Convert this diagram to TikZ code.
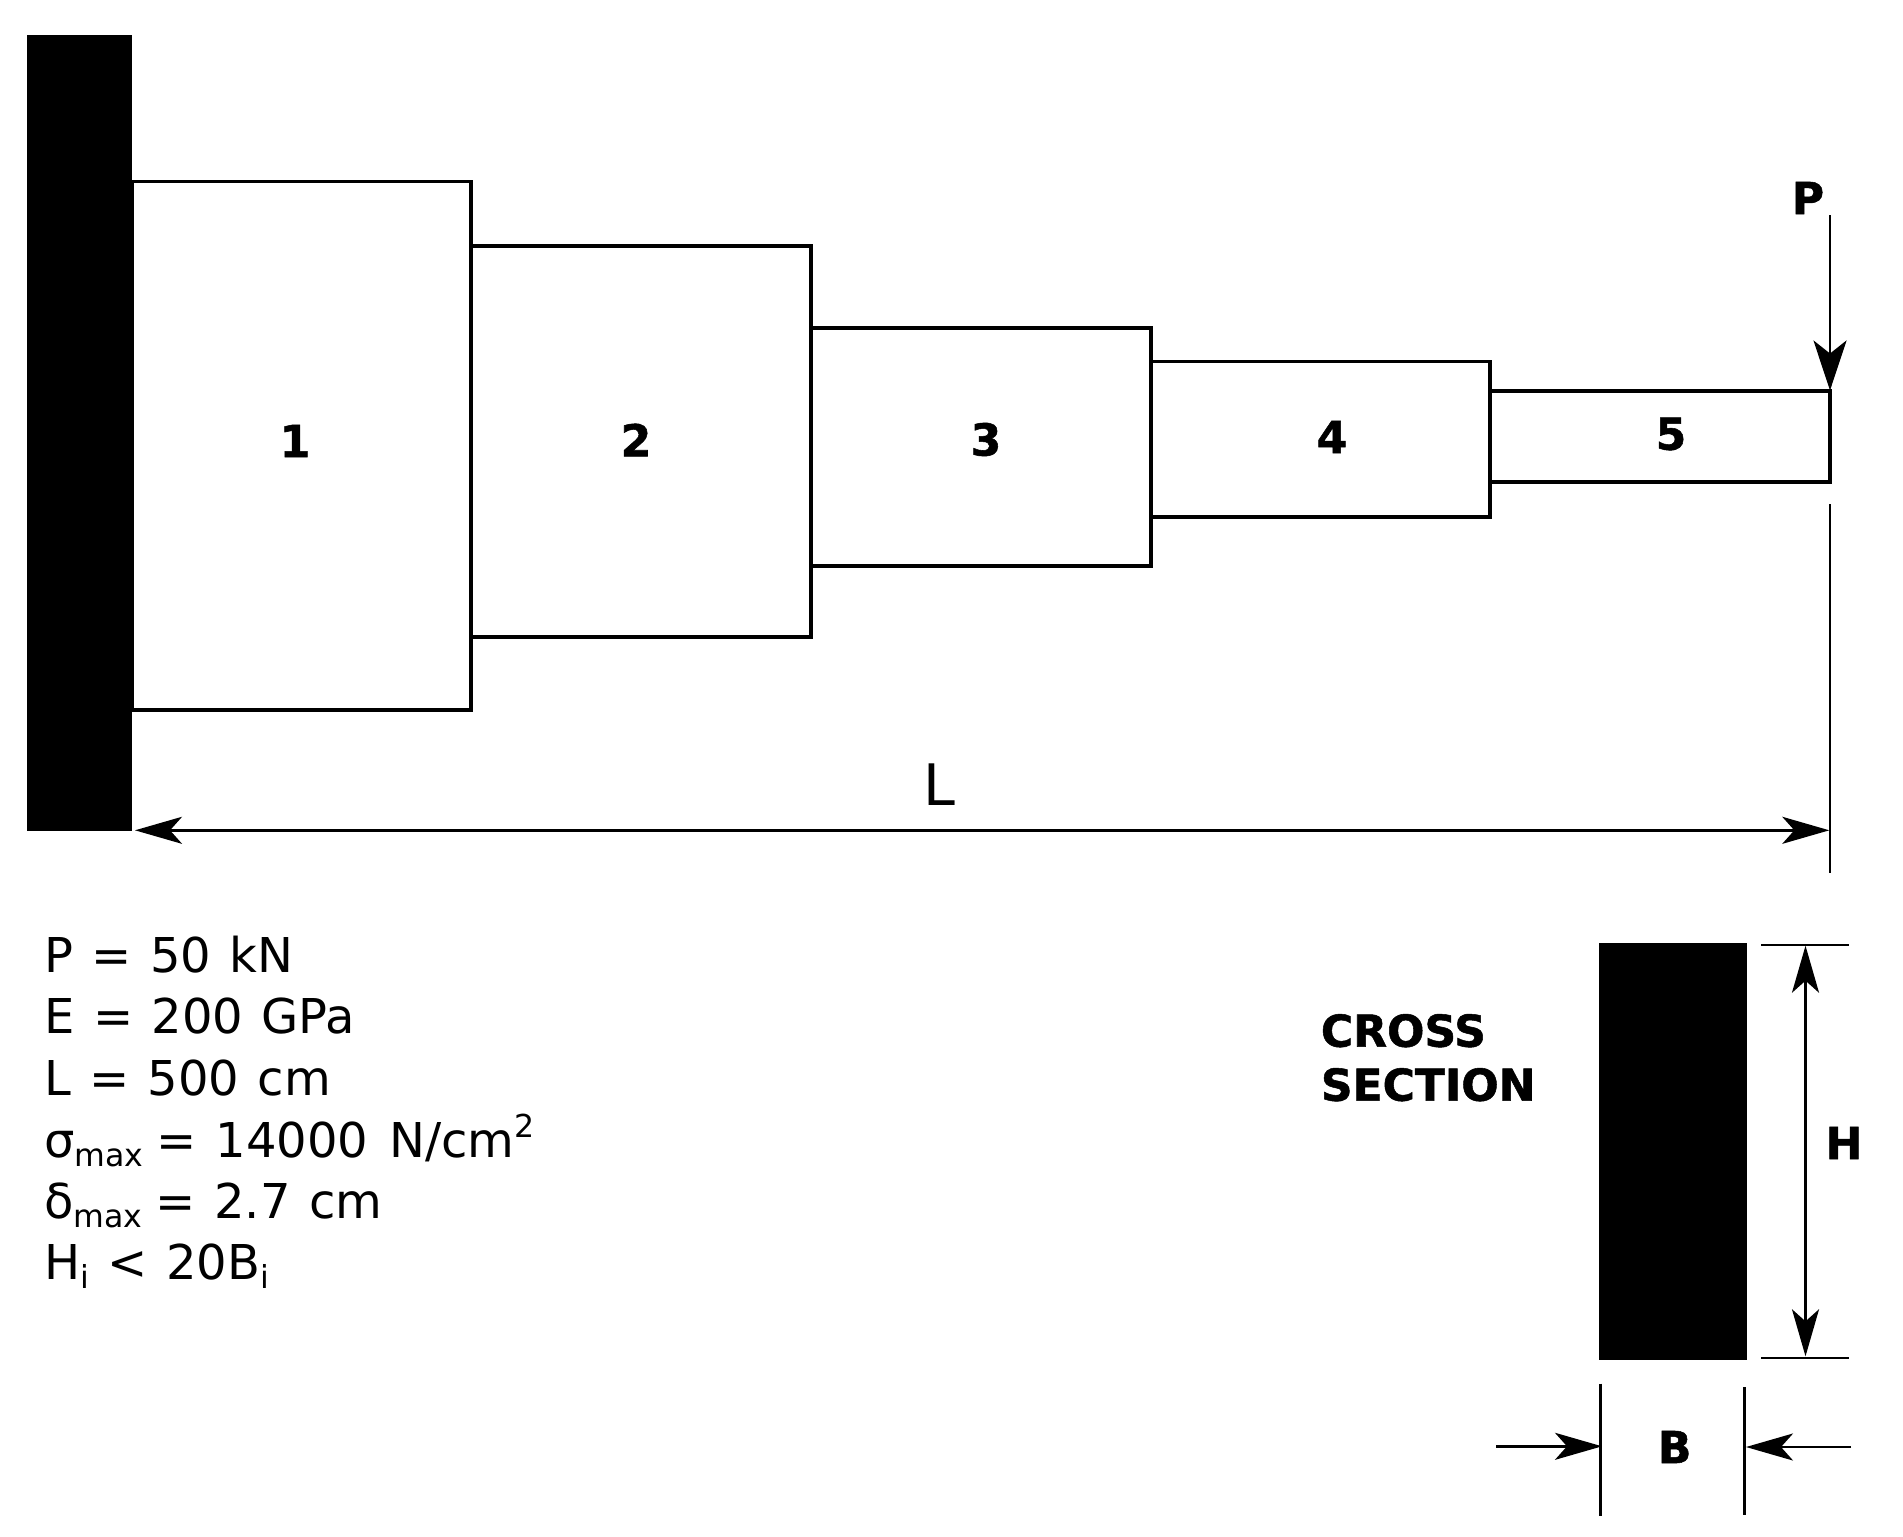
\documentclass[tikz,border=0pt]{standalone}
\usepackage{fontspec}
\setmainfont[WordSpace=1.2,BoldFeatures={FakeBold=1.2,WordSpace=1}]{DejaVu Sans}
\usetikzlibrary{arrows.meta}
\newcommand{\idxdown}[1]{\raisebox{-4.5pt}{\fontsize{15.8}{15.8}\selectfont #1}}
\newcommand{\idxup}[1]{\raisebox{10pt}{\fontsize{15.8}{15.8}\selectfont #1}}
\tikzset{
  bartip/.tip={Stealth[length=23.5pt,width=13.5pt,inset=6pt]},
  loadtip/.tip={Stealth[length=25pt,width=16.5pt,inset=6.5pt]},
  stepbar/.style={draw=black,line width=1.9pt,miter limit=10},
  dimline/.style={black,line width=1.25pt},
  dimtick/.style={black,line width=1pt},
  datatext/.style={inner sep=0pt,anchor=base west,font=\fontsize{24}{29}\selectfont},
  boldtext/.style={inner sep=0pt,font=\fontsize{22}{26}\selectfont\bfseries},
}

\begin{document}
\begin{tikzpicture}[x=0.5pt,y=-0.5pt]
      \useasboundingbox (0,0) rectangle (1903,1537);
      \draw [stepbar] (132,181.5) rectangle (471,710);
      \node [boldtext] (num1) at (295,441) {1};
      \draw [stepbar] (471,246) rectangle (811,637);
      \node [boldtext] (num2) at (636,440) {2};
      \draw [stepbar] (811,327.8) rectangle (1151,565.8);
      \node [boldtext] (num3) at (986,439.5) {3};
      \draw [stepbar] (1151,361.5) rectangle (1490,517);
      \node [boldtext] (num4) at (1332,437) {4};
      \draw [stepbar] (1490,391) rectangle (1830,482.2);
      \node [boldtext] (num5) at (1671,434) {5};
      \fill [black] (27,35) rectangle (132,831);
      \coordinate (loadstart) at (1830,215);
      \coordinate (loadend) at (1830,390.5);
      \draw [dimline, line width=1.4pt, -loadtip] (loadstart) -- (loadend);
      \node [boldtext] (loadname) at (1808,198) {P};
      \coordinate (lengthtop) at (1830,504);
      \coordinate (lengthbot) at (1830,872.7);
      \draw [dimtick] (lengthtop) -- (lengthbot);
      \coordinate (lengthA) at (135,830.3);
      \coordinate (lengthB) at (1829.3,830.3);
      \draw [dimline, bartip-bartip] (lengthA) -- (lengthB);
      \node [inner sep=0pt, anchor=base west, font=\fontsize{28.6}{34}\selectfont] (lengthname) at (923.5,805.7) {L};
      \node [datatext] (dataP) at (44,972) {P = 50 kN};
      \node [datatext] (dataE) at (44,1033) {E = 200 GPa};
      \node [datatext] (dataL) at (44,1095) {L = 500 cm};
      \node [datatext] (dataS) at (44,1157) {σ\idxdown{max}\hspace{-2.5pt} = 14000\hspace{1.5pt} N/cm\idxup{2}};
      \node [datatext] (dataD) at (44,1218) {δ\idxdown{max}\hspace{-2.5pt} = 2.7 cm};
      \node [datatext] (dataH) at (44,1279) {H\idxdown{i} < 20B\idxdown{i}};
      \node [boldtext, anchor=base west] (crossname) at (1320.5,1046.7) {CROSS};
      \node [boldtext, anchor=base west] (sectionname) at (1320.5,1100.7) {SECTION};
      \fill [black] (1599,943.3) rectangle (1746.7,1359.7);
      \coordinate (hightopA) at (1761,945);
      \coordinate (hightopB) at (1849,945);
      \draw [dimtick] (hightopA) -- (hightopB);
      \coordinate (highbotA) at (1761,1357.7);
      \coordinate (highbotB) at (1849,1357.7);
      \draw [dimtick] (highbotA) -- (highbotB);
      \coordinate (highA) at (1805.5,945.7);
      \coordinate (highB) at (1805.5,1356.3);
      \draw [dimline, bartip-bartip] (highA) -- (highB);
      \node [boldtext] (highname) at (1844,1143) {H};
      \coordinate (wideleftA) at (1600.3,1383.7);
      \coordinate (wideleftB) at (1600.3,1516);
      \draw [dimline, line width=1.5pt] (wideleftA) -- (wideleftB);
      \coordinate (widerightA) at (1744.7,1387);
      \coordinate (widerightB) at (1744.7,1515);
      \draw [dimline, line width=1.5pt] (widerightA) -- (widerightB);
      \coordinate (arrowleftA) at (1496,1446.3);
      \coordinate (arrowleftB) at (1602,1446.3);
      \draw [dimline, -bartip] (arrowleftA) -- (arrowleftB);
      \coordinate (arrowrightA) at (1851,1447);
      \coordinate (arrowrightB) at (1746,1447);
      \draw [dimline, -bartip] (arrowrightA) -- (arrowrightB);
      \node [boldtext] (widename) at (1674.7,1447) {B};
   \end{tikzpicture}
\end{document}
